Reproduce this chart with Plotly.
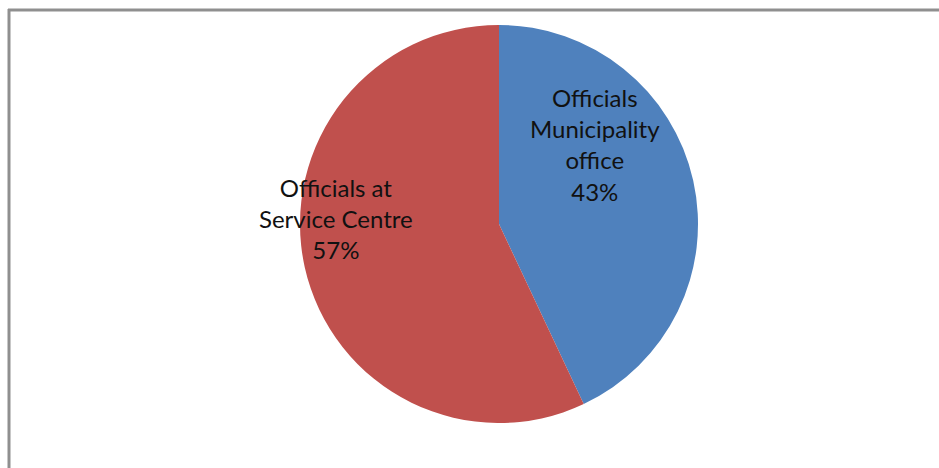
import plotly.graph_objects as go

# Share of officials by workplace
labels = ["Officials<br>Municipality<br>office", "Officials at<br>Service Centre"]
values = [43, 57]
colors = ["#4F81BD", "#C0504D"]

W, H = 939, 468
cx, cy, r = 499, 224, 199

fig = go.Figure(go.Pie(
    labels=labels,
    values=values,
    sort=False,
    direction="clockwise",
    rotation=0,
    marker=dict(colors=colors, line=dict(width=0)),
    textinfo="none",
    hoverinfo="label+percent",
    showlegend=False,
    domain=dict(x=[(cx - r) / W, (cx + r) / W],
                y=[(H - cy - r) / H, (H - cy + r) / H]),
))

# Data labels placed beside/inside each slice
total = sum(values)
label_pos = [(595, 144), (336, 218)]
for lab, v, (lx, ly) in zip(labels, values, label_pos):
    fig.add_annotation(
        x=lx / W, y=1 - ly / H, xref="paper", yref="paper",
        xanchor="center", yanchor="middle",
        text=f"{lab}<br>{round(100 * v / total)}%",
        showarrow=False, align="center",
        font=dict(family="Lato", size=24, color="#111111"),
    )

# Chart-area frame (top and left edges)
frame = dict(type="line", xref="paper", yref="paper",
             line=dict(color="#8f8f8f", width=3))
fig.add_shape(**frame, x0=8 / W, x1=1.0, y0=1 - 10 / H, y1=1 - 10 / H)
fig.add_shape(**frame, x0=9 / W, x1=9 / W, y0=1 - 9 / H, y1=0.0)

fig.update_layout(
    width=W, height=H,
    margin=dict(l=0, r=0, t=0, b=0),
    paper_bgcolor="white", plot_bgcolor="white",
)

fig.write_html("out.html")
